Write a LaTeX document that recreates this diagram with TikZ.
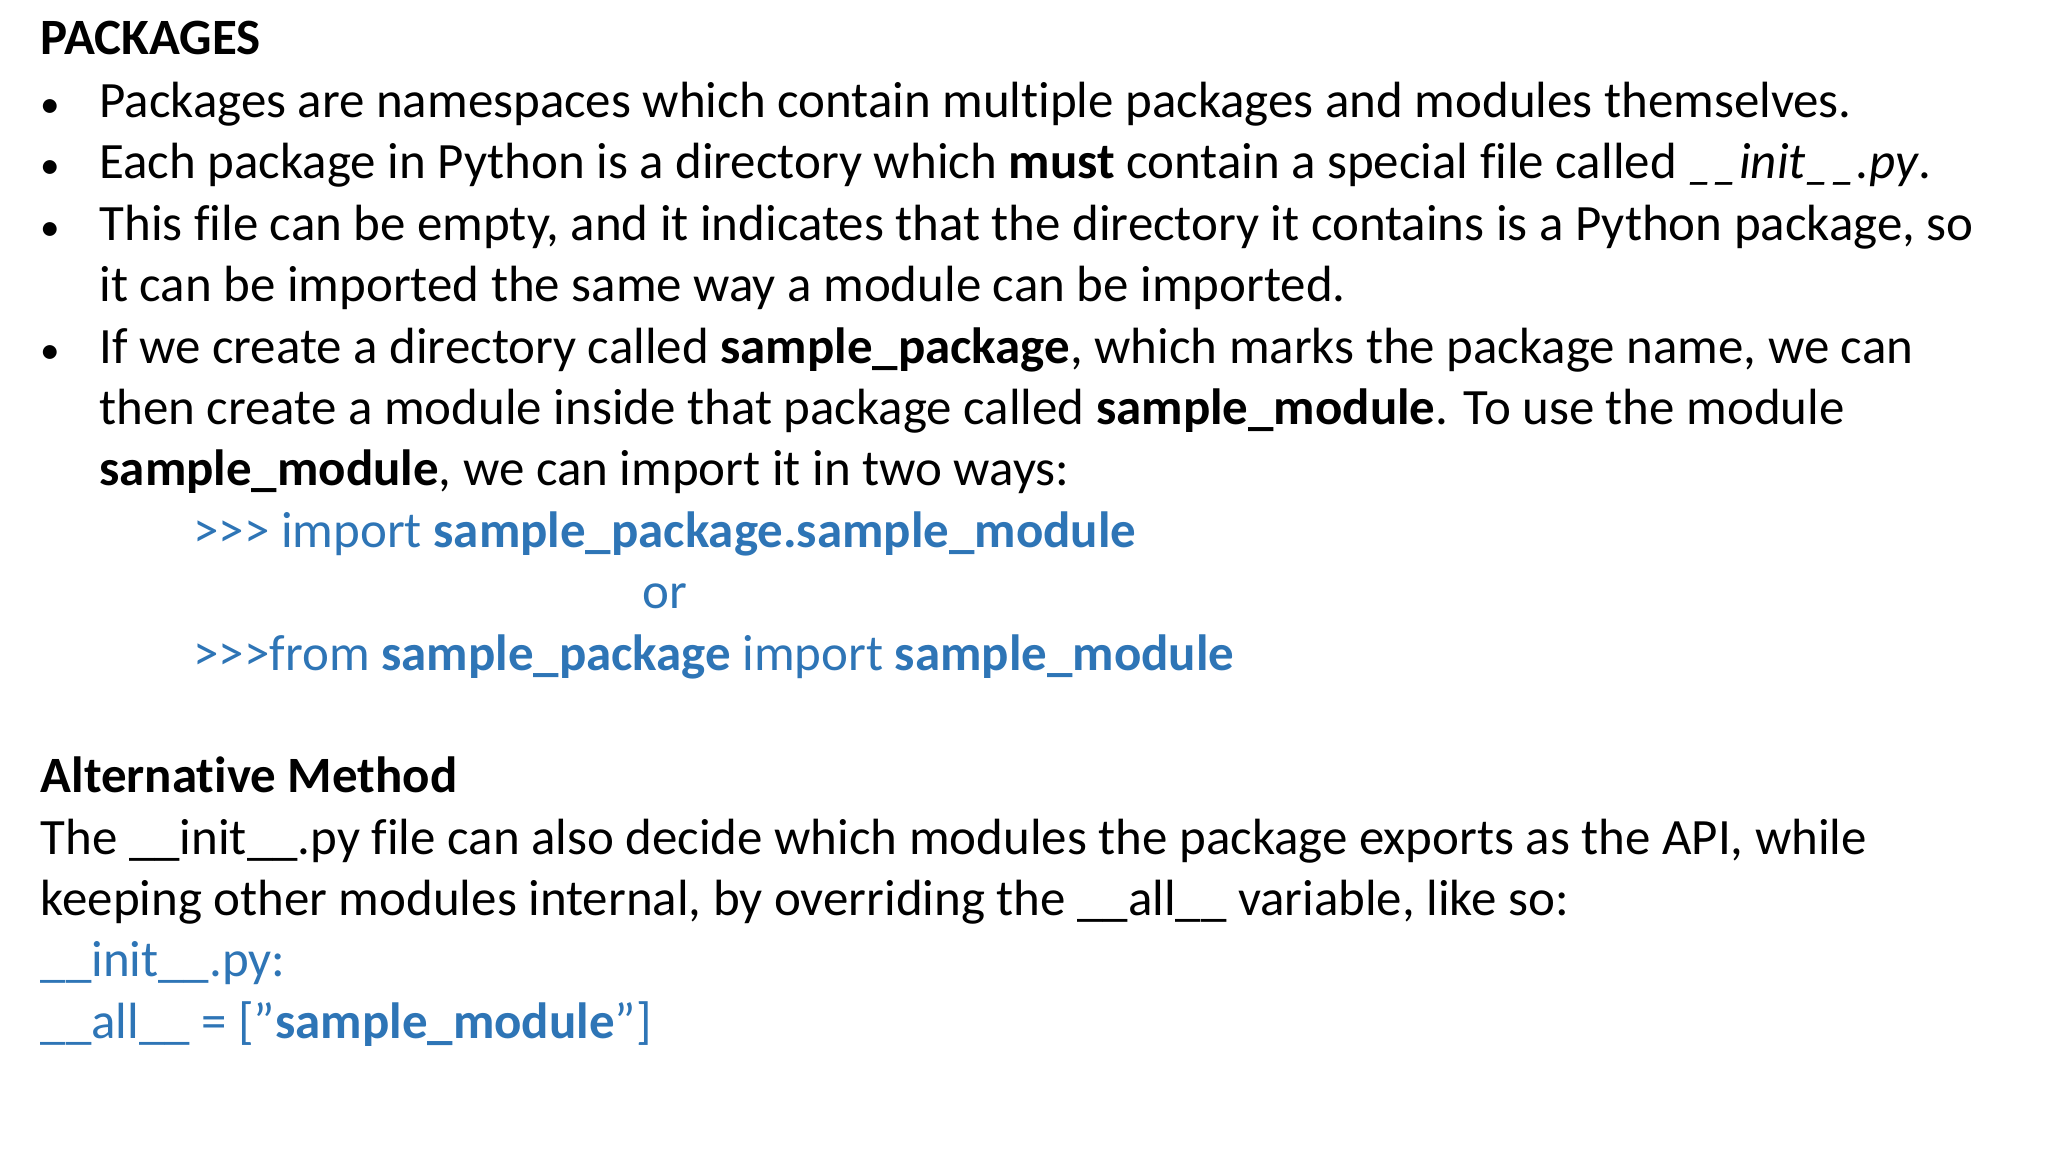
\documentclass[tikz,border=0pt]{standalone}
\usepackage{fontspec}
\setmainfont[Ligatures={NoCommon}]{Carlito}
\definecolor{codeblue}{RGB}{46,117,182}
\begin{document}
\begin{tikzpicture}[x=1pt,y=-1pt,
  txt/.style={anchor=base west,inner sep=0pt,font=\fontsize{39}{46}\selectfont},
  code/.style={txt,text=codeblue}]
\useasboundingbox[fill=white] (0,0) rectangle (1568,882);
\node[txt] (h1) at (31,42) {\textbf{PACKAGES}};
\foreach \y/\n in {90/b1,137/b2,184/b3,278/b4}{
  \node[txt,font=\fontsize{30}{36}\selectfont] (\n) at (31,\y) {•};}
\node[txt] (l1) at (76,90) {Packages are namespaces which contain multiple packages and modules themselves.};
\node[txt] (l2) at (76,137) {Each package in Python is a directory which \textbf{must} contain a special file called \textit{\_\_init\_\_.py}.};
\node[txt] (l3) at (76,184) {This file can be empty, and it indicates that the directory it contains is a Python package, so};
\node[txt] (l4) at (76,231) {it can be imported the same way a module can be imported.};
\node[txt] (l5) at (76,278) {If we create a directory called \textbf{sample\_package}, which marks the package name, we can};
\node[txt] (l6) at (76,325) {then create a module inside that package called \textbf{sample\_module}. To use the module};
\node[txt] (l7) at (76,372) {\textbf{sample\_module}, we can import it in two ways:};
\node[code] (c1) at (148,419) {>{}>{}> import \textbf{sample\_package.sample\_module}};
\node[code] (c2) at (492,466) {or};
\node[code] (c3) at (148,513) {>{}>{}>from \textbf{sample\_package} import \textbf{sample\_module}};
\node[txt] (h2) at (31,607) {\textbf{Alternative Method}};
\node[txt] (a1) at (31,654) {The \_\_init\_\_.py file can also decide which modules the package exports as the API, while};
\node[txt] (a2) at (31,701) {keeping other modules internal, by overriding the \_\_all\_\_ variable, like so:};
\node[code] (a3) at (31,748) {\_\_init\_\_.py:};
\node[code] (a4) at (31,795) {\_\_all\_\_ = [\char34\textbf{sample\_module}\char34]};
\end{tikzpicture}
\end{document}
